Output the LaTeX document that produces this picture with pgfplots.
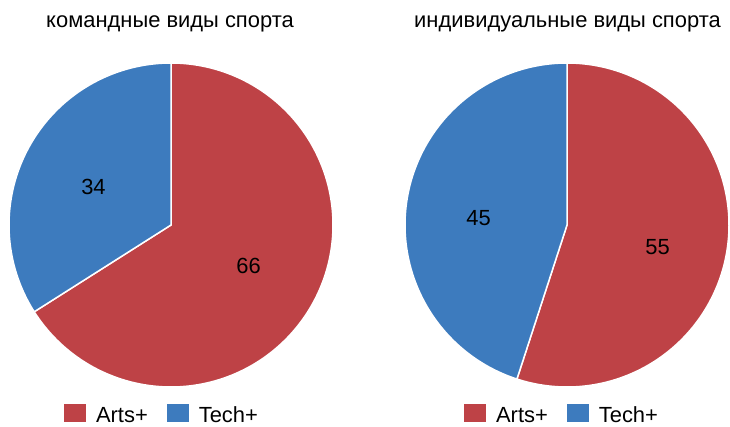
\documentclass[border=0pt]{standalone}
\usepackage{fontspec}
\setmainfont{Liberation Sans}
\usepackage{pgfplots}
\usepackage{pgfplotstable}
\pgfplotsset{compat=1.18}
\definecolor{artsred}{RGB}{190,66,70}
\definecolor{techblue}{RGB}{61,123,190}

\pgfplotstableread{
label value
Arts+ 66
Tech+ 34
}\teamdata
\pgfplotstableread{
label value
Arts+ 55
Tech+ 45
}\inddata

\pgfplotstablegetelem{0}{value}\of\teamdata \edef\teamA{\pgfplotsretval}
\pgfplotstablegetelem{0}{value}\of\inddata \edef\indA{\pgfplotsretval}
\pgfmathsetmacro\teamSplit{90-3.6*\teamA}
\pgfmathsetmacro\teamSplitB{\teamSplit+360}
\pgfmathsetmacro\indSplit{90-3.6*\indA}
\pgfmathsetmacro\indSplitB{\indSplit+360}

\pgfplotsset{
  piestyle/.style={
    width=365bp, height=427bp, scale only axis,
    hide axis, clip=false,
    ymin=0, ymax=427,
    legend columns=2,
    legend image code/.code={\fill[##1, draw=none] (0bp,-7bp) rectangle (22bp,11bp);},
    legend style={draw=none, fill=none, inner sep=0pt, outer sep=0pt,
      font=\fontsize{22}{26}\selectfont,
      nodes={inner ysep=1bp},
      /tikz/every even column/.append style={column sep=17bp},
      /tikz/every odd column/.append style={column sep=8bp}},
  },
}

\begin{document}
\begin{tikzpicture}
\begin{axis}[piestyle, xmin=0, xmax=365,
    legend style={at={(axis cs:162,2)}, anchor=south}]
  \addplot[fill=artsred, draw=white, line width=1.5bp, domain=\teamSplit:90, samples=150]
    ({171+162*cos(x)}, {202+162*sin(x)}) -- (axis cs:171,202) -- cycle;
  \addlegendentry{Arts+}
  \addplot[fill=techblue, draw=white, line width=1.5bp, domain=90:\teamSplitB, samples=120]
    ({171+162*cos(x)}, {202+162*sin(x)}) -- (axis cs:171,202) -- cycle;
  \addlegendentry{Tech+}
  \node[font=\fontsize{22}{26}\selectfont] at (axis cs:93.5,240) {34};
  \node[font=\fontsize{22}{26}\selectfont] at (axis cs:248.5,161.5) {66};
  \node[font=\fontsize{22}{26}\selectfont, anchor=base] at (axis cs:170,399) {командные виды спорта};
\end{axis}
\begin{axis}[piestyle, at={(365bp,0)}, xmin=365, xmax=730,
    legend style={at={(axis cs:562,2)}, anchor=south}]
  \addplot[fill=artsred, draw=white, line width=1.5bp, domain=\indSplit:90, samples=150]
    ({567+162*cos(x)}, {202+162*sin(x)}) -- (axis cs:567,202) -- cycle;
  \addlegendentry{Arts+}
  \addplot[fill=techblue, draw=white, line width=1.5bp, domain=90:\indSplitB, samples=150]
    ({567+162*cos(x)}, {202+162*sin(x)}) -- (axis cs:567,202) -- cycle;
  \addlegendentry{Tech+}
  \node[font=\fontsize{22}{26}\selectfont] at (axis cs:478.5,209) {45};
  \node[font=\fontsize{22}{26}\selectfont] at (axis cs:657.5,179.5) {55};
  \node[font=\fontsize{22}{26}\selectfont, anchor=base] at (axis cs:567.5,399) {индивидуальные виды спорта};
\end{axis}
\pgfresetboundingbox
\path[use as bounding box] (0,0) rectangle (730bp,427bp);
\end{tikzpicture}
\end{document}
